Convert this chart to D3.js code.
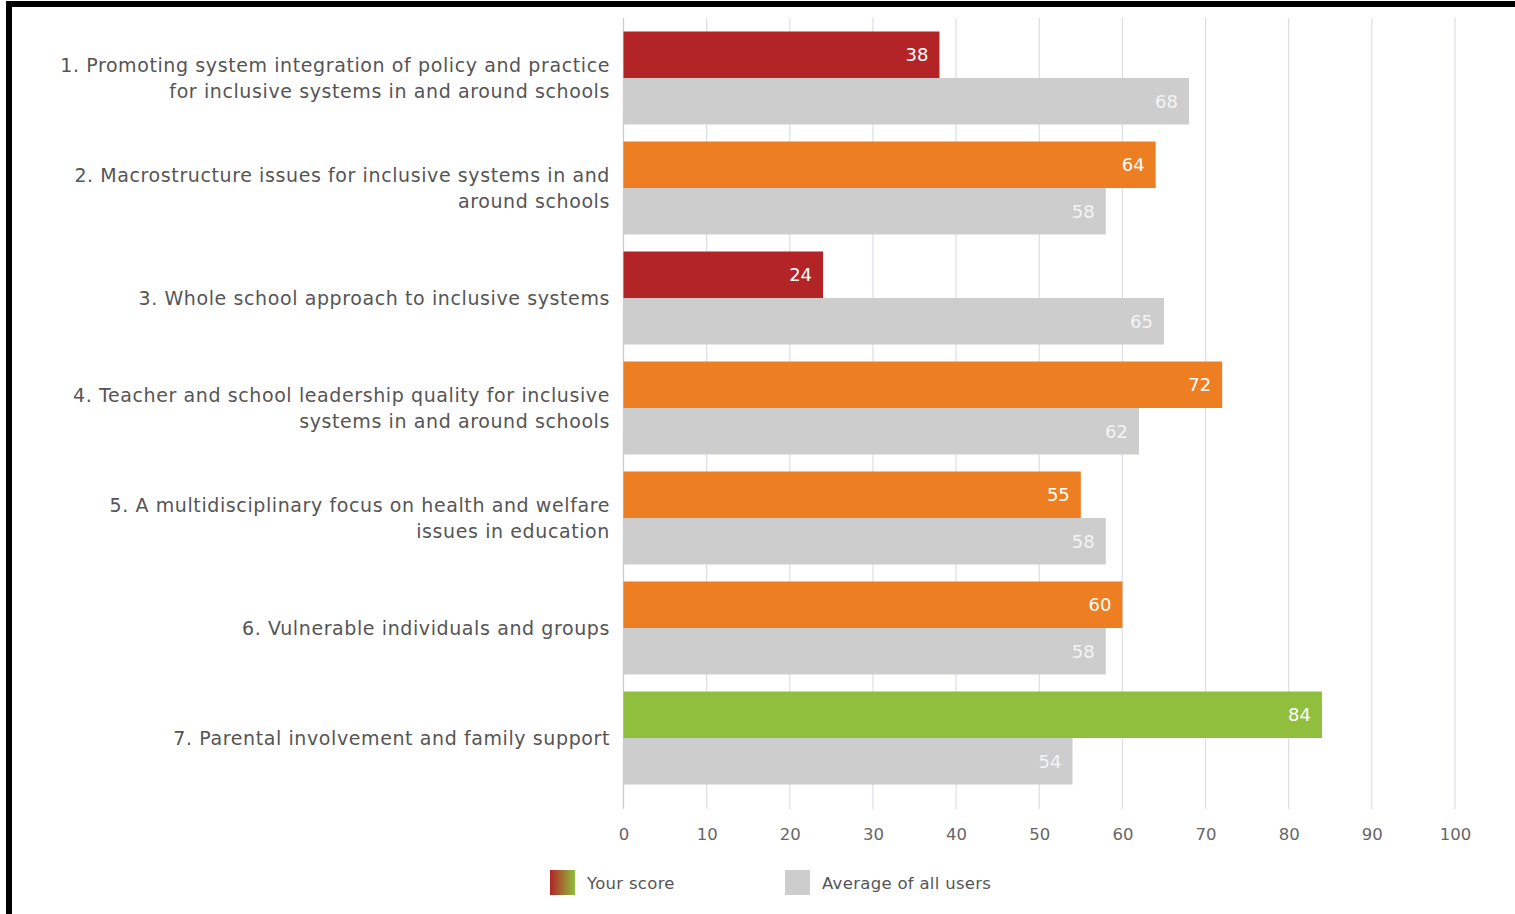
<!DOCTYPE html>
<html>
<head>
<meta charset="utf-8">
<script src="https://cdn.jsdelivr.net/npm/d3@7"></script>
<style>
  html, body { margin: 0; padding: 0; background: #fff; }
  svg { display: block; }
</style>
</head>
<body>
<svg id="chart"></svg>
<script>
	// chart data
	var categories = [
		["1. Promoting system integration of policy and practice", "for inclusive systems in and around schools"],
		["2. Macrostructure issues for inclusive systems in and", "around schools"],
		["3. Whole school approach to inclusive systems"],
		["4. Teacher and school leadership quality for inclusive", "systems in and around schools"],
		["5. A multidisciplinary focus on health and welfare", "issues in education"],
		["6. Vulnerable individuals and groups"],
		["7. Parental involvement and family support"]
	];
	var yourScore = [38, 64, 24, 72, 55, 60, 84];
	var averageScore = [68, 58, 65, 62, 58, 58, 54];
	var xTicks = [0, 10, 20, 30, 40, 50, 60, 70, 80, 90, 100];
	var legendLabels = ["Your score", "Average of all users"];

	var width = 1515, height = 914;
	var margin = {top: 23, right: 60, bottom: 121, left: 623.5};
	var font = "'DejaVu Sans', sans-serif";

	var svg = d3.select("#chart")
		.attr("width", width)
		.attr("height", height);

	// frame
	svg.append("rect").attr("x", 6).attr("y", 1).attr("width", width).attr("height", 6).attr("fill", "#000");
	svg.append("rect").attr("x", 6).attr("y", 1).attr("width", 6).attr("height", height).attr("fill", "#000");

	var x = d3.scaleLinear().domain([0, 100]).range([margin.left, 1455]);
	var y = d3.scaleBand().domain(d3.range(categories.length))
		.range([margin.top, height - margin.bottom]).paddingInner(0).paddingOuter(0);
	var barH = 46.5;
	var groupOffset = (y.bandwidth() - 2 * barH) / 2;

	var scoreColor = d3.scaleThreshold().domain([50, 80]).range(["#b32426", "#ee7e22", "#90bf3e"]);

	// grid lines
	svg.append("g").selectAll("line")
		.data(xTicks)
		.join("line")
		.attr("x1", function(d) { return x(d); })
		.attr("x2", function(d) { return x(d); })
		.attr("y1", 18)
		.attr("y2", 809)
		.attr("stroke", function(d) { return d === 0 ? "#c8ccd4" : "#dde1e7"; })
		.attr("stroke-width", 1.3);

	// axis labels
	var axis = svg.append("g")
		.attr("transform", "translate(0," + 840 + ")")
		.call(d3.axisBottom(x).tickValues(xTicks).tickSize(0).tickPadding(0));
	axis.select(".domain").remove();
	axis.selectAll("text")
		.attr("fill", "#666")
		.attr("font-size", "16.5px")
		.attr("font-family", font)
		.attr("dy", 0);

	var groups = svg.append("g").selectAll("g")
		.data(categories)
		.join("g")
		.attr("transform", function(d, i) { return "translate(0," + (y(i) + groupOffset) + ")"; });

	// your score bars
	groups.append("rect")
		.attr("x", x(0))
		.attr("y", 0)
		.attr("width", function(d, i) { return x(yourScore[i]) - x(0); })
		.attr("height", barH)
		.attr("fill", function(d, i) { return scoreColor(yourScore[i]); });

	// average bars
	groups.append("rect")
		.attr("x", x(0))
		.attr("y", barH)
		.attr("width", function(d, i) { return x(averageScore[i]) - x(0); })
		.attr("height", barH)
		.attr("fill", "#cdcdcd");

	// value labels
	groups.append("text")
		.attr("x", function(d, i) { return x(yourScore[i]) - 11; })
		.attr("y", barH / 2)
		.attr("dy", "0.35em")
		.attr("text-anchor", "end")
		.attr("fill", "#fff")
		.attr("font-size", "18px")
		.attr("font-family", font)
		.text(function(d, i) { return yourScore[i]; });

	groups.append("text")
		.attr("x", function(d, i) { return x(averageScore[i]) - 11; })
		.attr("y", barH * 1.5)
		.attr("dy", "0.35em")
		.attr("text-anchor", "end")
		.attr("fill", "#f4f4f4")
		.attr("font-size", "18px")
		.attr("font-family", font)
		.text(function(d, i) { return averageScore[i]; });

	// category labels
	groups.append("text")
		.attr("text-anchor", "end")
		.attr("fill", "#555")
		.attr("font-size", "19px")
		.attr("letter-spacing", "0.6px")
		.attr("font-family", font)
		.attr("transform", function(d) {
			return "translate(610," + (barH - (d.length - 1) * 13) + ")";
		})
		.selectAll("tspan")
		.data(function(d) { return d; })
		.join("tspan")
		.attr("x", 0)
		.attr("y", function(d, i) { return i * 26; })
		.attr("dy", "0.35em")
		.text(function(d) { return d; });

	// legend
	var grad = svg.append("defs").append("linearGradient").attr("id", "scoreGrad");
	grad.append("stop").attr("offset", "0%").attr("stop-color", "#b32426");
	grad.append("stop").attr("offset", "100%").attr("stop-color", "#90bf3e");

	var legend = svg.append("g").attr("transform", "translate(550,870)");
	legend.append("rect").attr("x", 0).attr("y", 0).attr("width", 25).attr("height", 25).attr("fill", "url(#scoreGrad)");
	legend.append("rect").attr("x", 235).attr("y", 0).attr("width", 25).attr("height", 25).attr("fill", "#cdcdcd");
	legend.selectAll("text")
		.data(legendLabels)
		.join("text")
		.attr("x", function(d, i) { return i === 0 ? 37 : 272; })
		.attr("y", 13)
		.attr("dy", "0.35em")
		.attr("fill", "#555")
		.attr("font-size", "16.5px")
		.attr("letter-spacing", "0.3px")
		.attr("font-family", font)
		.text(function(d) { return d; });
</script>
</body>
</html>
